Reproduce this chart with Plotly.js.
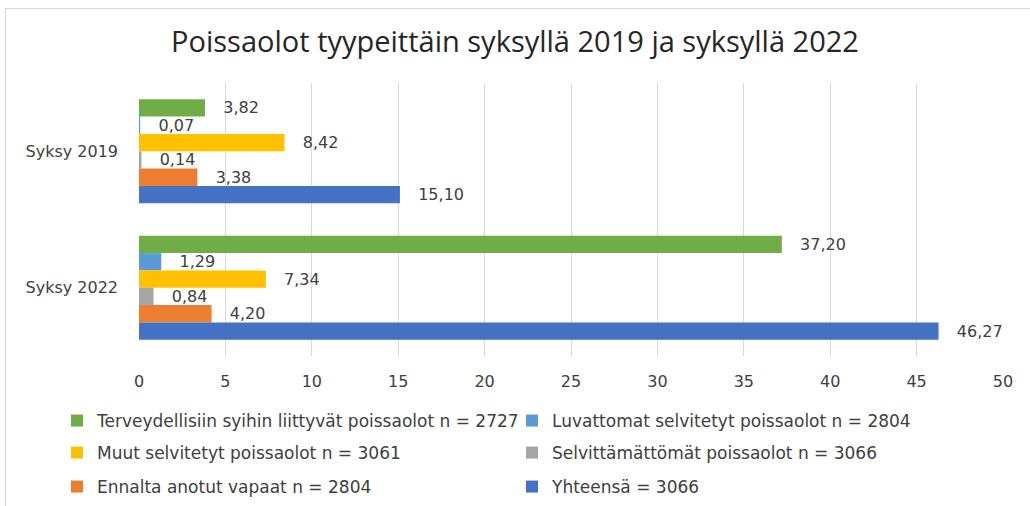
<!DOCTYPE html>
<html>
<head>
<meta charset="utf-8">
<script src="https://cdn.plot.ly/plotly-3.0.1.min.js"></script>
<style>
html,body{margin:0;padding:0;background:#fff;}
#chart{width:1030px;height:506px;}
#frame{position:absolute;left:5px;top:8px;width:1030px;height:506px;border-top:1px solid #d9d9d9;border-left:1px solid #d9d9d9;pointer-events:none;}
</style>
</head>
<body>
<div id="chart"></div>
<div id="frame"></div>
<script>
const categories = ['Syksy 2019', 'Syksy 2022'];
const seriesNames = [
  'Terveydellisiin syihin liittyvät poissaolot n = 2727',
  'Luvattomat selvitetyt poissaolot n = 2804',
  'Muut selvitetyt poissaolot n = 3061',
  'Selvittämättömät poissaolot n = 3066',
  'Ennalta anotut vapaat n = 2804',
  'Yhteensä = 3066'
];
const terveys = [3.82, 37.20];
const luvattomat = [0.07, 1.29];
const muut = [8.42, 7.34];
const selvittamattomat = [0.14, 0.84];
const ennalta = [3.38, 4.20];
const yhteensa = [15.10, 46.27];
const xTicks = [0, 5, 10, 15, 20, 25, 30, 35, 40, 45, 50];

const seriesValues = [terveys, luvattomat, muut, selvittamattomat, ennalta, yhteensa];
const colors = ['#70AD47', '#5B9BD5', '#FFC000', '#A5A5A5', '#ED7D31', '#4472C4'];
const legendIds = ['legend', 'legend2', 'legend3', 'legend4', 'legend5', 'legend6'];

const FONT = 'DejaVu Sans, sans-serif';
const traces = seriesValues.map((vals, i) => ({
  type: 'bar',
  orientation: 'h',
  name: seriesNames[i],
  y: categories,
  x: vals,
  marker: {color: colors[i], line: {width: 0}},
  texttemplate: '\u00a0\u00a0\u00a0%{x:.2f}',
  textposition: 'outside',
  constraintext: 'none',
  cliponaxis: false,
  textfont: {family: FONT, size: 16, color: '#404040'},
  hoverinfo: 'x+name',
  legend: legendIds[i]
}));

const plotL = 139, plotR = 1003, plotT = 83, plotB = 356;
const pw = plotR - plotL, ph = plotB - plotT;
function px2x(px){ return (px - plotL) / pw; }
function py2y(py){ return (plotB - py) / ph; }

const legendPos = [
  [57, 421], [512, 421],
  [57, 453], [512, 453],
  [57, 487], [512, 487]
];

const layout = {
  width: 1030, height: 506,
  margin: {l: plotL, r: 1030 - plotR, t: plotT, b: 506 - plotB, autoexpand: false},
  paper_bgcolor: '#fff', plot_bgcolor: '#fff',
  separators: ', ',
  barmode: 'group',
  bargap: 0.238,
  bargroupgap: 0,
  font: {family: FONT, size: 16, color: '#404040'},
  title: {
    text: 'Poissaolot tyypeittäin syksyllä 2019 ja syksyllä 2022',
    font: {family: 'Open Sans, sans-serif', size: 29, color: '#262626'},
    x: 0.5, xanchor: 'center', xref: 'container',
    y: 1 - 42/506, yanchor: 'middle', yref: 'container'
  },
  xaxis: {
    range: [0, 50], tickvals: xTicks, ticktext: xTicks.map(String),
    showgrid: true, gridcolor: '#d9d9d9', gridwidth: 1,
    zeroline: false, showline: false, ticks: '',
    ticklabelstandoff: 14,
    tickfont: {family: FONT, size: 16, color: '#404040'},
    fixedrange: true, automargin: false
  },
  yaxis: {
    type: 'category', autorange: 'reversed',
    showgrid: false, zeroline: false, showline: false, ticks: '',
    ticklabelstandoff: 20,
    tickfont: {family: FONT, size: 16, color: '#404040'},
    fixedrange: true, automargin: false
  },
  showlegend: true
};
legendIds.forEach((id, i) => {
  layout[id] = {
    x: px2x(legendPos[i][0]), xanchor: 'left',
    y: py2y(legendPos[i][1]), yanchor: 'middle',
    xref: 'paper', yref: 'paper',
    orientation: 'h',
    bgcolor: 'rgba(0,0,0,0)', borderwidth: 0,
    font: {family: FONT, size: 17, color: '#404040'},
    itemwidth: 30
  };
});

Plotly.newPlot('chart', traces, layout, {displayModeBar: false, staticPlot: true});
</script>
</body>
</html>
